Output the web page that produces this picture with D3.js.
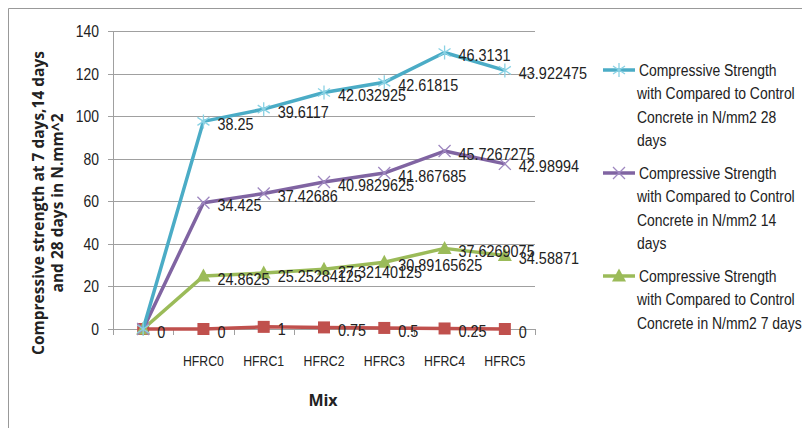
<!DOCTYPE html>
<html>
<head>
<meta charset="utf-8">
<script src="https://cdn.jsdelivr.net/npm/d3@7"></script>
<style>
  html, body { margin: 0; padding: 0; background: #fff; }
  svg { display: block; }
  text { font-family: "Liberation Sans", Arial, sans-serif; fill: #222; }
</style>
</head>
<body>
<svg id="chart" width="802" height="429"></svg>
<script>
// Mix categories (the first slot is the unlabelled origin point)
const categories = ["", "HFRC0", "HFRC1", "HFRC2", "HFRC3", "HFRC4", "HFRC5"];

// Series values (drawn as a stacked line chart)
const fibreContent = [0, 0, 1, 0.75, 0.5, 0.25, 0];
const strength7 = [0, 24.8625, 25.25284125, 27.32140125, 30.89165625, 37.6269075, 34.58871];
const strength14 = [0, 34.425, 37.42686, 40.9829625, 41.867685, 45.7267275, 42.98994];
const strength28 = [0, 38.25, 39.6117, 42.032925, 42.61815, 46.3131, 43.922475];

// Label strings as printed next to each point
const labels7 = ["", "24.8625", "25.25284125", "27.32140125", "30.89165625", "37.6269075", "34.58871"];
const labels14 = ["", "34.425", "37.42686", "40.9829625", "41.867685", "45.7267275", "42.98994"];
const labels28 = ["", "38.25", "39.6117", "42.032925", "42.61815", "46.3131", "43.922475"];
const labelsFibre = ["0", "0", "1", "0.75", "0.5", "0.25", "0"];

const yTicks = [0, 20, 40, 60, 80, 100, 120, 140];

const legendNames = {
  s28: ["Compressive Strength", "with Compared to Control", "Concrete in N/mm2 28", "days"],
  s14: ["Compressive Strength", "with Compared to Control", "Concrete in N/mm2 14", "days"],
  s7: ["Compressive Strength", "with Compared to Control", "Concrete in N/mm2 7 days"]
};

const series = [
  { key: "fibre", values: fibreContent, labels: labelsFibre, color: "#C0504D", marker: "square" },
  { key: "s7", values: strength7, labels: labels7, color: "#9BBB59", marker: "triangle" },
  { key: "s14", values: strength14, labels: labels14, color: "#8064A2", marker: "cross" },
  { key: "s28", values: strength28, labels: labels28, color: "#4BACC6", marker: "star" }
];

const svg = d3.select("#chart");

// Horizontally condensed text, positioned by its anchor point
function ctext(parent, px, py, str, size, sx, anchor) {
  return parent.append("text")
    .attr("transform", `translate(${px},${py}) scale(${sx},1)`)
    .attr("dy", "0.35em")
    .attr("text-anchor", anchor || "start")
    .attr("font-size", size)
    .text(str);
}

// Outer chart frame (top and left edges)
svg.append("path")
  .attr("d", "M8.5,428 V8.5 H802")
  .attr("fill", "none")
  .attr("stroke", "#999")
  .attr("stroke-width", 1);

const plot = { left: 113, right: 535, top: 31, bottom: 329 };

const x = d3.scaleBand().domain(categories.map((c, i) => i)).range([plot.left, plot.right]);
const y = d3.scaleLinear().domain([0, 140]).range([plot.bottom, plot.top]);
const cx = i => x(i) + x.bandwidth() / 2;

// Stack the series in drawing order
const table = categories.map((c, i) => {
  const row = { i };
  series.forEach(s => { row[s.key] = s.values[i]; });
  return row;
});
const stacked = d3.stack().keys(series.map(s => s.key))(table);

// Gridlines
svg.append("g")
  .selectAll("line")
  .data(yTicks)
  .join("line")
  .attr("x1", plot.left - 5)
  .attr("x2", plot.right)
  .attr("y1", d => Math.round(y(d)) + 0.5)
  .attr("y2", d => Math.round(y(d)) + 0.5)
  .attr("stroke", "#a0a0a0")
  .attr("stroke-width", 1);

// Y axis line
svg.append("line")
  .attr("x1", plot.left + 0.5).attr("x2", plot.left + 0.5)
  .attr("y1", plot.top).attr("y2", plot.bottom + 0.5)
  .attr("stroke", "#a0a0a0");

// X axis tick marks at category boundaries
svg.append("g")
  .selectAll("line")
  .data(d3.range(categories.length + 1))
  .join("line")
  .attr("x1", d => Math.round(plot.left + d * x.bandwidth()) + 0.5)
  .attr("x2", d => Math.round(plot.left + d * x.bandwidth()) + 0.5)
  .attr("y1", plot.bottom)
  .attr("y2", plot.bottom + 6)
  .attr("stroke", "#a0a0a0");

// Y tick labels
const yl = svg.append("g");
yTicks.forEach(t => ctext(yl, 99, y(t), t, 17, 0.82, "end"));

// X tick labels
const xl = svg.append("g");
categories.forEach((c, i) => ctext(xl, cx(i), 361, c, 15, 0.82, "middle"));

// Axis titles
const yTitle = svg.append("text")
  .attr("transform", "rotate(-90)")
  .attr("text-anchor", "middle")
  .attr("font-weight", "bold")
  .attr("font-size", 15.5)
  .style("font-family", "'Open Sans', sans-serif");
yTitle.append("tspan").attr("x", -203).attr("y", 44).text("Compressive strength at 7 days,14 days");
yTitle.append("tspan").attr("x", -203).attr("y", 63).text("and 28 days  in N.mm^2");

svg.append("text")
  .attr("x", 323).attr("y", 400)
  .attr("dy", "0.35em")
  .attr("text-anchor", "middle")
  .attr("font-weight", "bold")
  .attr("font-size", 16)
  .style("font-family", "'Open Sans', sans-serif")
  .text("Mix");

// Marker drawing
function drawMarker(g, type, color) {
  if (type === "square") {
    g.append("rect").attr("x", -6).attr("y", -6).attr("width", 12).attr("height", 12)
      .attr("fill", color);
  } else if (type === "triangle") {
    g.append("path").attr("d", "M0,-7.5 L7,5.5 L-7,5.5 Z").attr("fill", color);
  } else if (type === "cross") {
    g.append("path").attr("d", "M-6,-6 L6,6 M-6,6 L6,-6")
      .attr("stroke", "#9e87c0").attr("stroke-width", 1.3).attr("fill", "none");
  } else if (type === "star") {
    g.append("path").attr("d", "M0,-7 V7 M-6,-4 L6,4 M-6,4 L6,-4")
      .attr("stroke", "#8ad2e4").attr("stroke-width", 1.3).attr("fill", "none");
  }
}

const line = d3.line().x(d => cx(d.data.i)).y(d => y(d[1]));

// Lines with their point markers
series.forEach((s, si) => {
  const layer = stacked[si];
  const g = svg.append("g");
  g.append("path")
    .datum(layer)
    .attr("d", line)
    .attr("fill", "none")
    .attr("stroke", s.color)
    .attr("stroke-width", 3.5)
    .attr("stroke-linejoin", "round");
  layer.forEach(d => {
    const m = g.append("g").attr("transform", `translate(${cx(d.data.i)},${y(d[1])})`);
    drawMarker(m, s.marker, s.color);
  });
});

// Data labels
series.forEach((s, si) => {
  const g = svg.append("g");
  stacked[si].forEach((d, i) => {
    if (s.labels[i] !== "") ctext(g, cx(d.data.i) + 14, y(d[1]) + 3, s.labels[i], 16, 0.9, "start");
  });
});

// Legend
const legendItems = [
  { s: series[3], lines: legendNames.s28, top: 70 },
  { s: series[2], lines: legendNames.s14, top: 173 },
  { s: series[1], lines: legendNames.s7, top: 276 }
];
const lg = svg.append("g");
legendItems.forEach(item => {
  const g = lg.append("g");
  g.append("line")
    .attr("x1", 603).attr("x2", 635)
    .attr("y1", item.top).attr("y2", item.top)
    .attr("stroke", item.s.color).attr("stroke-width", 3.5);
  drawMarker(g.append("g").attr("transform", `translate(619,${item.top})`), item.s.marker, item.s.color);
  item.lines.forEach((t, i) => ctext(g, i === 0 ? 639 : 637, item.top + i * 23.5, t, 16, 0.87, "start"));
});
</script>
</body>
</html>
